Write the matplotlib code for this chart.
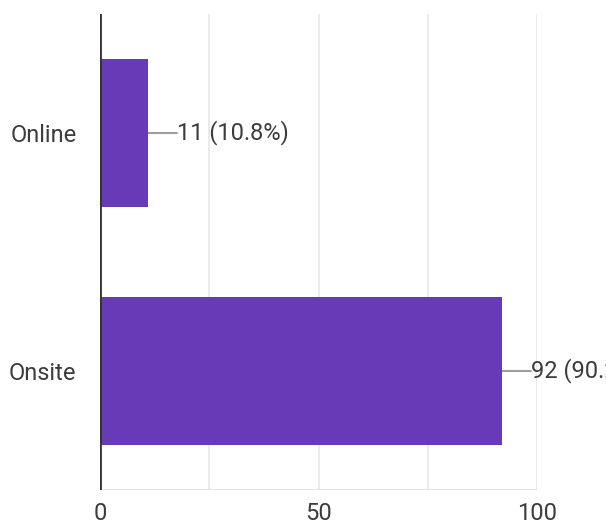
import matplotlib
matplotlib.use("Agg")
import matplotlib.pyplot as plt

categories = ["Online", "Onsite"]
counts = [11, 92]
percents = [10.8, 90.2]
x_ticks = [0, 50, 100]
x_grid = [0, 25, 50, 75, 100]

plt.rcParams["font.family"] = ["Roboto", "DejaVu Sans"]

W, H = 606, 524
fig = plt.figure(figsize=(W / 100, H / 100), dpi=100)
ax = fig.add_axes([100 / W, 34 / H, 437 / W, 476 / H])

bar_color = "#673ab7"
text_color = "#3c3c3c"

ypos = list(range(len(categories)))[::-1]
ax.barh(ypos, counts, height=0.62, color=bar_color, zorder=3)

ax.set_xlim(0, 100)
ax.set_ylim(-0.5, len(categories) - 0.5)

for x in x_grid[1:]:
    ax.axvline(x, color="#e6e6e6", lw=1.2, zorder=1)
ax.axhline(-0.5, color="#e6e6e6", lw=1.5, zorder=1)
ax.axvline(0, color="#333333", lw=2, zorder=4)

# value labels with short leader lines
for y, c, p in zip(ypos, counts, percents):
    ax.annotate("", xy=(c, y), xytext=(c + 6.6, y),
                arrowprops=dict(arrowstyle="-", color="#9e9e9e", lw=1.5,
                                shrinkA=0, shrinkB=0),
                annotation_clip=False, zorder=2)
    ax.text(c + 6.6, y, f"{c} ({p}%)", va="center", ha="left",
            fontsize=17, color=text_color, clip_on=False)

for s in ax.spines.values():
    s.set_visible(False)

ax.set_xticks(x_ticks)
ax.set_xticklabels([str(t) for t in x_ticks])
ax.set_yticks(ypos)
ax.set_yticklabels(categories)
ax.tick_params(axis="both", length=0, labelsize=17, labelcolor=text_color)
ax.tick_params(axis="x", pad=9)
ax.tick_params(axis="y", pad=17)

fig.savefig("out.png", dpi=100)
